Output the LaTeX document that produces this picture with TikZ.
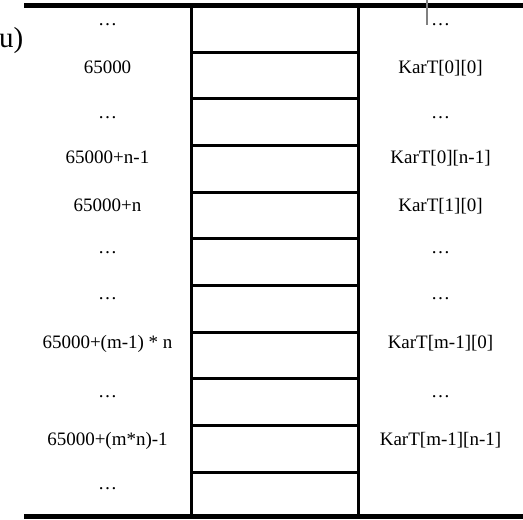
\documentclass[tikz,border=0pt]{standalone}
\usepackage{fontspec}
\setmainfont{Liberation Serif}
\tikzset{
  lbl/.style={anchor=base, inner sep=0pt, font=\fontsize{19}{22}\selectfont},
  biglbl/.style={inner sep=0pt, font=\fontsize{29}{32}\selectfont},
  thickrule/.style={line width=5.5pt, black},
  cellline/.style={line width=3pt, black},
}
\begin{document}
\begin{tikzpicture}[x=1pt,y=-1pt]
\useasboundingbox (0,0) rectangle (523,520);
% columns coordinates
\coordinate (tl) at (24,5.5);
\coordinate (tr) at (523,5.5);
\coordinate (bl) at (24,516.7);
\coordinate (br) at (523,516.7);
\coordinate (v1t) at (191.7,5.5);
\coordinate (v1b) at (191.7,516.7);
\coordinate (v2t) at (358.7,5.5);
\coordinate (v2b) at (358.7,516.7);
% vertical lines of middle column
\draw[cellline] (v1t) -- (v1b);
\draw[cellline] (v2t) -- (v2b);
% horizontal cell lines
\foreach \k in {0,...,9}{
  \coordinate (hl\k) at (191.7,52+46.7*\k);
  \coordinate (hr\k) at (358.7,52+46.7*\k);
  \draw[cellline] (hl\k) -- (hr\k);
}
% thick rules
\draw[thickrule] (tl) -- (tr);
\draw[thickrule] (bl) -- (br);
% gray marker
\coordinate (g1) at (427,0);
\coordinate (g2) at (427,25);
\draw[gray, line width=1.3pt] (g1) -- (g2);
% clipped label at left
\node[biglbl, anchor=base east] (u) at (23.5,47) {u)};
% left column labels
\node[lbl] (L0) at (107.5,25) {\dots};
\node[lbl] (L1) at (107.5,73.5) {65000};
\node[lbl] (L2) at (107.5,118) {\dots};
\node[lbl] (L3) at (107.5,163.5) {65000+n-1};
\node[lbl] (L4) at (107.5,211.5) {65000+n};
\node[lbl] (L5) at (107.5,253) {\dots};
\node[lbl] (L6) at (107.5,299) {\dots};
\node[lbl] (L7) at (107.5,348) {65000+(m-1) * n};
\node[lbl] (L8) at (107.5,397) {\dots};
\node[lbl] (L9) at (107.5,445) {65000+(m*n)-1};
\node[lbl] (L10) at (107.5,489) {\dots};
% right column labels
\node[lbl] (R0) at (440.5,25) {\dots};
\node[lbl] (R1) at (440.5,73.5) {KarT[0][0]};
\node[lbl] (R2) at (440.5,118) {\dots};
\node[lbl] (R3) at (440.5,163.5) {KarT[0][n-1]};
\node[lbl] (R4) at (440.5,211.5) {KarT[1][0]};
\node[lbl] (R5) at (440.5,253) {\dots};
\node[lbl] (R6) at (440.5,299) {\dots};
\node[lbl] (R7) at (440.5,348) {KarT[m-1][0]};
\node[lbl] (R8) at (440.5,397) {\dots};
\node[lbl] (R9) at (440.5,445) {KarT[m-1][n-1]};
\end{tikzpicture}
\end{document}
